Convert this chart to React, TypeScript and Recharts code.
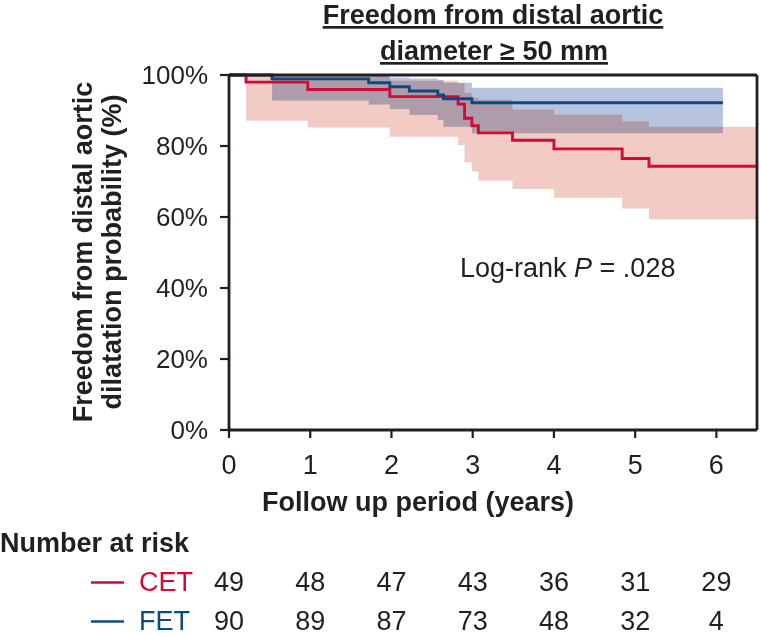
import React from 'react'
import { ComposedChart, Area, Line, XAxis, YAxis, ReferenceLine } from 'recharts'

// Kaplan-Meier estimates (years, %), with 95% confidence limits per step
const cetTime = [0, 0.21, 0.97, 1.98, 2.82, 2.9, 2.99, 3.07, 3.49, 4.0, 4.84, 5.17, 6.5]
const cetSurv = [100, 98.0, 95.9, 93.9, 91.8, 87.8, 85.7, 83.7, 81.6, 79.2, 76.5, 74.3, 74.3]
const cetLower = [null, 87.1, 85.2, 82.6, 80.3, 75.4, 72.8, 70.2, 67.9, 65.4, 62.4, 59.4, 59.4]
const cetUpper = [null, 100, 100, 98.4, 97.7, 95.0, 93.5, 93.0, 90.3, 88.9, 87.0, 85.4, 85.4]

const fetTime = [0, 0.53, 1.72, 1.98, 2.22, 2.57, 2.64, 2.99, 6.08]
const fetSurv = [100, 98.9, 97.8, 96.7, 95.5, 94.4, 93.3, 92.2, 92.2]
const fetLower = [null, 92.8, 91.7, 90.4, 88.7, 87.3, 85.4, 83.6, 83.6]
const fetUpper = [null, 100, 99.7, 99.3, 99.0, 98.6, 97.8, 96.4, 96.4]

const yearTicks = [0, 1, 2, 3, 4, 5, 6]
const pctTicks = [0, 20, 40, 60, 80, 100]
const cetRisk = [49, 48, 47, 43, 36, 31, 29]
const fetRisk = [90, 89, 87, 73, 48, 32, 4]

const ink = '#231f20'
const cetColor = '#d20a35'
const fetColor = '#0d4a80'
const font = '"Liberation Sans", Arial, Helvetica, sans-serif'

const toLine = (time: number[], surv: number[]) => time.map((t, i) => ({ t, s: surv[i] }))
const toBand = (time: number[], lo: (number | null)[], hi: (number | null)[]) =>
  time.slice(1).map((t, i) => ({ t, band: [lo[i + 1], hi[i + 1]] }))

const cetLine = toLine(cetTime, cetSurv)
const fetLine = toLine(fetTime, fetSurv)
const cetBand = toBand(cetTime, cetLower, cetUpper)
const fetBand = toBand(fetTime, fetLower, fetUpper)

// year label plus the number-at-risk rows stacked under each tick
const YearTick = (props: any) => {
  const { x, y, payload } = props
  const i = yearTicks.indexOf(payload.value)
  return (
    <g fontFamily={font} fontSize={27} fill={ink} textAnchor="middle">
      <text x={x} y={y + 33}>{payload.value}</text>
      <text x={x} y={y + 150}>{cetRisk[i]}</text>
      <text x={x} y={y + 189}>{fetRisk[i]}</text>
    </g>
  )
}

export default function App() {
  return (
    <div style={{ position: 'absolute', left: 0, top: 0, width: 761, height: 637, background: '#fff', fontFamily: font }}>
      <style>{'.band-multiply path { mix-blend-mode: multiply; }'}</style>
      <ComposedChart width={761} height={637} margin={{ top: 75, right: 4, bottom: 0, left: 0 }}>
        <XAxis
          type="number"
          dataKey="t"
          domain={[0, 6.5]}
          ticks={yearTicks}
          interval={0}
          height={207}
          tickSize={8}
          tickMargin={3}
          axisLine={{ stroke: ink, strokeWidth: 2.8 }}
          tickLine={{ stroke: ink, strokeWidth: 2.2 }}
          tick={<YearTick />}
        />
        <YAxis
          type="number"
          domain={[0, 100]}
          ticks={pctTicks}
          interval={0}
          width={229}
          tickSize={9}
          tickMargin={12}
          tickFormatter={(v: number) => `${v}%`}
          axisLine={{ stroke: ink, strokeWidth: 2.8 }}
          tickLine={{ stroke: ink, strokeWidth: 2.2 }}
          tick={{ fill: ink, fontSize: 26, fontFamily: font }}
        />
        <Area
          data={cetBand}
          dataKey="band"
          type="stepAfter"
          fill="#f2cbc4"
          fillOpacity={1}
          stroke="none"
          className="band-multiply"
          isAnimationActive={false}
        />
        <Area
          data={fetBand}
          dataKey="band"
          type="stepAfter"
          fill="#b8c4de"
          fillOpacity={1}
          stroke="none"
          className="band-multiply"
          isAnimationActive={false}
        />
        <Line data={cetLine} dataKey="s" type="stepAfter" stroke={cetColor} strokeWidth={2.9} dot={false} isAnimationActive={false} />
        <Line data={fetLine} dataKey="s" type="stepAfter" stroke={fetColor} strokeWidth={2.9} dot={false} isAnimationActive={false} />
        <ReferenceLine y={100} stroke={ink} strokeWidth={2.8} />
        <ReferenceLine x={6.5} stroke={ink} strokeWidth={2.8} />
      </ComposedChart>

      <svg width={761} height={637} style={{ position: 'absolute', left: 0, top: 0, pointerEvents: 'none' }} fontFamily={font}>
        <g fontWeight="bold" fontSize={27} fill={ink} textAnchor="middle" textDecoration="underline">
          <text x={493} y={24}>Freedom from distal aortic</text>
          <text x={494} y={60}>diameter ≥ 50 mm</text>
        </g>
        <g fontWeight="bold" fontSize={27} fill={ink} textAnchor="middle">
          <text transform="translate(92,252) rotate(-90)">Freedom from distal aortic</text>
          <text transform="translate(121,252) rotate(-90)">dilatation probability (%)</text>
          <text x={418} y={511}>Follow up period (years)</text>
        </g>
        <text x={0} y={552} fontWeight="bold" fontSize={27} fill={ink}>Number at risk</text>
        <line x1={91} x2={124} y1={582.5} y2={582.5} stroke={cetColor} strokeWidth={2.5} />
        <text x={139} y={591} fontSize={27} fill={cetColor}>CET</text>
        <line x1={91} x2={124} y1={621.5} y2={621.5} stroke={fetColor} strokeWidth={2.5} />
        <text x={139} y={630} fontSize={27} fill={fetColor}>FET</text>
        <text x={460} y={277} fontSize={27} fill={ink}>
          Log-rank <tspan fontStyle="italic">P</tspan> = .028
        </text>
      </svg>
    </div>
  )
}
